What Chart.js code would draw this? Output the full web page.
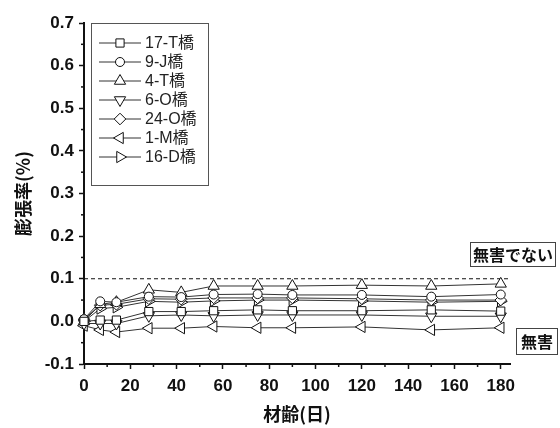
<!DOCTYPE html>
<html>
<head>
<meta charset="utf-8">
<script src="https://cdn.jsdelivr.net/npm/chart.js@4/dist/chart.umd.min.js"></script>
<style>
html,body{margin:0;padding:0;background:#fff;}
#wrap{width:560px;height:428px;}
</style>
</head>
<body>
<div id="wrap"><canvas id="c" width="560" height="428"></canvas></div>
<script>
// ---- data ----
const days = [0, 7, 14, 28, 42, 56, 75, 90, 120, 150, 180];
const seriesNames = ["17-T橋", "9-J橋", "4-T橋", "6-O橋", "24-O橋", "1-M橋", "16-D橋"];
const s17T = [0.000, 0.003, 0.003, 0.023, 0.023, 0.025, 0.027, 0.025, 0.025, 0.027, 0.024];
const s9J  = [0.005, 0.047, 0.045, 0.058, 0.057, 0.063, 0.064, 0.062, 0.062, 0.058, 0.063];
const s4T  = [0.000, 0.040, 0.045, 0.074, 0.068, 0.083, 0.083, 0.083, 0.085, 0.083, 0.088];
const s6O  = [-0.005, -0.005, -0.005, 0.013, 0.015, 0.013, 0.015, 0.015, 0.015, 0.012, 0.012];
const s24O = [0.005, 0.038, 0.040, 0.053, 0.052, 0.055, 0.055, 0.055, 0.053, 0.050, 0.050];
const s1M  = [-0.010, -0.020, -0.025, -0.016, -0.016, -0.012, -0.015, -0.015, -0.013, -0.020, -0.015];
const s16D = [0.000, 0.030, 0.033, 0.047, 0.045, 0.048, 0.050, 0.050, 0.048, 0.045, 0.047];
const limitX = [0, 184];
const limitY = [0.1, 0.1];
const xTicks = [0, 20, 40, 60, 80, 100, 120, 140, 160, 180];
const xMinorTicks = [10, 30, 50, 70, 90, 110, 130, 150, 170];
const yTicks = [-0.1, 0.0, 0.1, 0.2, 0.3, 0.4, 0.5, 0.6, 0.7];
const yMinorTicks = [-0.05, 0.05, 0.15, 0.25, 0.35, 0.45, 0.55, 0.65];
const labelHarmful = "無害でない";
const labelHarmless = "無害";
const xTitle = "材齢(日)";
const yTitle = "膨張率(%)";

const seriesValues = [s17T, s9J, s4T, s6O, s24O, s1M, s16D];
const styles = [
  {pointStyle: 'rect', radius: 5.8, rotation: 0},
  {pointStyle: 'circle', radius: 4.5, rotation: 0},
  {pointStyle: 'triangle', radius: 6.5, rotation: 0},
  {pointStyle: 'triangle', radius: 6.5, rotation: 180},
  {pointStyle: 'rectRot', radius: 5.8, rotation: 0},
  {pointStyle: 'triangle', radius: 6.5, rotation: -90},
  {pointStyle: 'triangle', radius: 6.5, rotation: 90}
];

const datasets = seriesNames.map((name, i) => ({
  label: name,
  data: days.map((d, j) => ({x: d, y: seriesValues[i][j]})),
  borderColor: '#333',
  borderWidth: 1,
  backgroundColor: '#fff',
  pointBackgroundColor: '#fff',
  pointBorderColor: '#111',
  pointBorderWidth: 1,
  pointStyle: styles[i].pointStyle,
  pointRadius: styles[i].radius,
  pointRotation: styles[i].rotation,
  tension: 0,
  clip: false
}));
datasets.push({
  label: '_limit',
  data: limitX.map((x, j) => ({x: x, y: limitY[j]})),
  borderColor: '#111',
  borderWidth: 1,
  borderDash: [4, 3],
  pointRadius: 0,
  clip: false
});

const tickFont = {family: '"Liberation Sans", Arial, sans-serif', size: 17, weight: 'bold'};
const titleFont = {family: '"Noto Sans CJK JP", sans-serif', size: 18, weight: 'bold'};

function drawMarker(ctx, st, x, y) {
  if (Chart.helpers && Chart.helpers.drawPoint) {
    Chart.helpers.drawPoint(ctx, {pointStyle: st.pointStyle, radius: st.radius, rotation: st.rotation, borderWidth: 1}, x, y);
  }
}

const extras = {
  id: 'extras',
  afterDraw(chart) {
    const ctx = chart.ctx;
    const xs = chart.scales.x, ys = chart.scales.y;
    ctx.save();
    // minor ticks
    ctx.strokeStyle = '#111';
    ctx.lineWidth = 1.5;
    xMinorTicks.forEach(v => {
      const px = xs.getPixelForValue(v);
      ctx.beginPath(); ctx.moveTo(px, ys.bottom); ctx.lineTo(px, ys.bottom + 3); ctx.stroke();
    });
    yMinorTicks.forEach(v => {
      const py = ys.getPixelForValue(v);
      ctx.beginPath(); ctx.moveTo(xs.left, py); ctx.lineTo(xs.left - 3, py); ctx.stroke();
    });
    // legend
    const lx = 91.5, ly = 23.5, lw = 117, lh = 162;
    ctx.fillStyle = '#fff';
    ctx.fillRect(lx, ly, lw, lh);
    ctx.strokeStyle = '#555';
    ctx.lineWidth = 1;
    ctx.strokeRect(lx, ly, lw, lh);
    ctx.font = '16px "Liberation Sans", "Noto Sans CJK JP", sans-serif';
    ctx.textBaseline = 'middle';
    ctx.textAlign = 'left';
    seriesNames.forEach((name, i) => {
      const y = 43 + i * 19;
      ctx.strokeStyle = '#333';
      ctx.lineWidth = 1;
      ctx.beginPath(); ctx.moveTo(99, y); ctx.lineTo(141, y); ctx.stroke();
      ctx.fillStyle = '#fff';
      ctx.strokeStyle = '#111';
      drawMarker(ctx, styles[i], 120, y);
      ctx.fillStyle = '#222';
      ctx.fillText(name, 145, y + 1);
    });
    // annotation boxes
    ctx.font = 'bold 16px "Noto Sans CJK JP", sans-serif';
    ctx.textAlign = 'center';
    ctx.strokeStyle = '#444';
    ctx.lineWidth = 1;
    ctx.strokeRect(470.5, 242.5, 85, 24);
    ctx.fillStyle = '#111';
    ctx.fillText(labelHarmful, 513, 255);
    ctx.strokeRect(516.5, 328.5, 41, 26);
    ctx.fillText(labelHarmless, 537, 342);
    ctx.restore();
  }
};

new Chart(document.getElementById('c'), {
  type: 'line',
  data: {datasets: datasets},
  options: {
    responsive: false,
    animation: false,
    devicePixelRatio: 1,
    layout: {padding: {left: 0, right: 50, top: 23, bottom: 0}},
    plugins: {legend: {display: false}, tooltip: {enabled: false}},
    scales: {
      x: {
        type: 'linear',
        min: 0, max: 184,
        afterBuildTicks: s => { s.ticks = xTicks.map(v => ({value: v})); },
        afterFit: s => { s.height = 64; },
        grid: {drawOnChartArea: false, drawTicks: true, tickLength: 5, tickWidth: 1.5, tickColor: '#111'},
        border: {display: true, width: 2, color: '#111'},
        ticks: {font: tickFont, color: '#111', padding: 7, maxRotation: 0, autoSkip: false,
                callback: v => String(v)},
        title: {display: true, text: xTitle, font: titleFont, color: '#111', padding: {top: 0, bottom: 3}}
      },
      y: {
        type: 'linear',
        min: -0.1, max: 0.7,
        afterBuildTicks: s => { s.ticks = yTicks.map(v => ({value: v})); },
        afterFit: s => { s.width = 84; },
        grid: {drawOnChartArea: false, drawTicks: true, tickLength: 5, tickWidth: 1.5, tickColor: '#111'},
        border: {display: true, width: 2, color: '#111'},
        ticks: {font: tickFont, color: '#111', padding: 5, autoSkip: false,
                callback: v => Number(v).toFixed(1)},
        title: {display: true, text: yTitle, font: titleFont, color: '#111', padding: {top: 12, bottom: 0}}
      }
    }
  },
  plugins: [extras]
});
</script>
</body>
</html>
